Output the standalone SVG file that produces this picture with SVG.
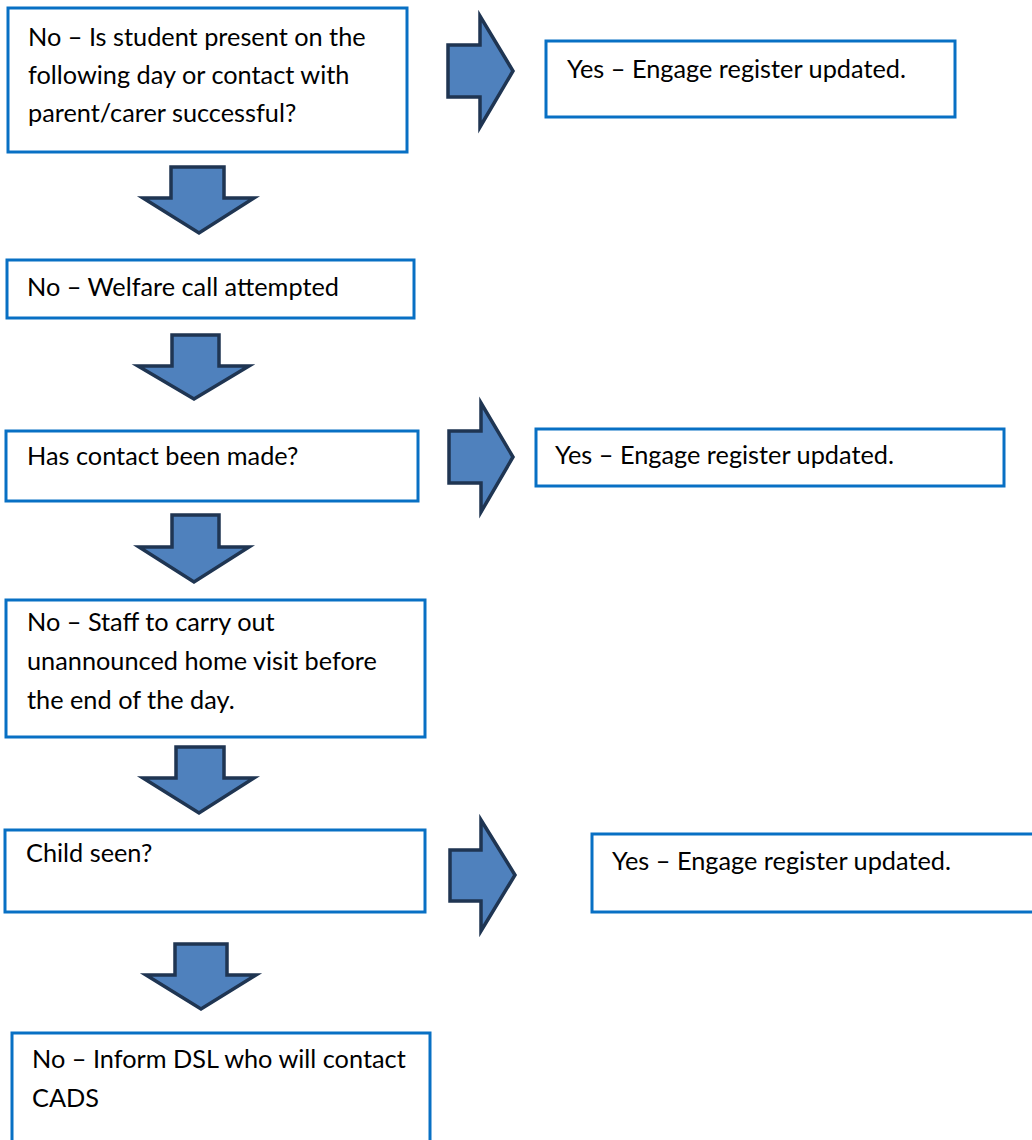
<svg xmlns="http://www.w3.org/2000/svg" width="1032" height="1140" viewBox="0 0 1032 1140">
<style>
.box{fill:#fff;stroke:#0870C4;stroke-width:3}
.arr{fill:#4F81BD;stroke:#1F3552;stroke-width:3.5;stroke-linejoin:miter}
text{font-family:Lato,"Liberation Sans",sans-serif;font-size:25.3px;fill:#000}
</style>
<rect width="1032" height="1140" fill="#fff"/>
<g id="connectors">
<path class="arr" d="M448,45 L480,45 L480,16 L513,71 L480,127 L480,97 L448,97 Z"/>
<path class="arr" d="M171,167 L224,167 L224,198 L254,198 L199,233 L143,198 L171,198 Z"/>
<path class="arr" d="M172,335 L219,335 L219,366 L249,366 L194,399 L138,366 L172,366 Z"/>
<path class="arr" d="M449,431 L481,431 L481,403 L513,457 L481,512 L481,483 L449,483 Z"/>
<path class="arr" d="M172,515 L219,515 L219,547 L249,547 L194,582 L139,547 L172,547 Z"/>
<path class="arr" d="M176,747 L224,747 L224,778 L254,778 L199,813 L143,778 L176,778 Z"/>
<path class="arr" d="M450,850 L481,850 L481,820 L515,875 L481,931 L481,901 L450,901 Z"/>
<path class="arr" d="M175,944 L227,944 L227,975 L256,975 L201,1009 L146,975 L175,975 Z"/>
</g>
<g id="n1"><rect class="box" x="8" y="8" width="399" height="144"/>
<text x="28" y="46">No – Is student present on the</text>
<text x="28" y="84">following day or contact with</text>
<text x="28" y="122">parent/carer successful?</text></g>
<g id="n2"><rect class="box" x="546" y="41" width="409" height="76"/>
<text x="567" y="78">Yes – Engage register updated.</text></g>
<g id="n3"><rect class="box" x="7" y="260" width="407" height="58"/>
<text x="27" y="296">No – Welfare call attempted</text></g>
<g id="n4"><rect class="box" x="6" y="431" width="412" height="70"/>
<text x="27" y="465">Has contact been made?</text></g>
<g id="n5"><rect class="box" x="536" y="429" width="468" height="57"/>
<text x="555" y="464">Yes – Engage register updated.</text></g>
<g id="n6"><rect class="box" x="6" y="600" width="419" height="137"/>
<text x="27" y="631">No – Staff to carry out</text>
<text x="27" y="670">unannounced home visit before</text>
<text x="27" y="709">the end of the day.</text></g>
<g id="n7"><rect class="box" x="5" y="830" width="420" height="82"/>
<text x="26" y="862">Child seen?</text></g>
<g id="n8"><rect class="box" x="592" y="834" width="445" height="78"/>
<text x="612" y="870">Yes – Engage register updated.</text></g>
<g id="n9"><rect class="box" x="12" y="1033" width="418" height="110"/>
<text x="32" y="1068">No – Inform DSL who will contact</text>
<text x="32" y="1107">CADS</text></g>
</svg>
